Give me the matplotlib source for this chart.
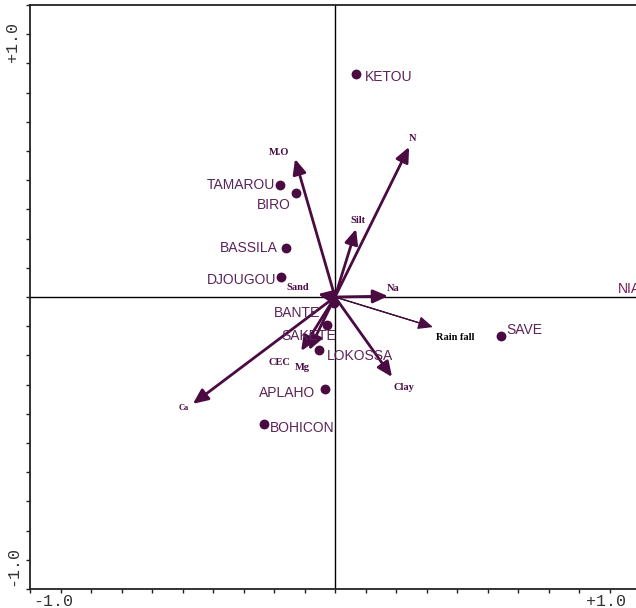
import matplotlib.pyplot as plt
from matplotlib.transforms import blended_transform_factory

# soil / climate variables (arrow tips)
variables = ["M.O", "N", "Silt", "Sand", "Na", "Rain fall", "Clay", "Ca", "CEC", "Mg"]
var_x = [-0.131, 0.243, 0.069, -0.056, 0.174, 0.321, 0.187, -0.466, -0.111, -0.085]
var_y = [0.473, 0.514, 0.233, 0.010, 0.003, -0.103, -0.274, -0.366, -0.185, -0.182]

# sampling sites
sites = ["KETOU", "TAMAROU", "BIRO", "BASSILA", "DJOUGOU", "BANTE",
         "SAKETE", "LOKOSSA", "APLAHO", "BOHICON", "SAVE"]
site_x = [0.069, -0.180, -0.128, -0.161, -0.177, -0.003,
          -0.026, -0.052, -0.033, -0.233, 0.544]
site_y = [0.764, 0.384, 0.356, 0.168, 0.068, -0.021,
          -0.096, -0.182, -0.315, -0.435, -0.134]

purple = "#4a0a42"
site_col = "#5a2456"

# label offsets in pixels: (dx, dy, ha)
var_off = {
    "M.O": (-16, 6), "N": (3, 8), "Silt": (2, 8), "Sand": (-20, 7),
    "Na": (5, 8), "Rain fall": (22, -10), "Clay": (12, -10),
    "Ca": (-9, -4), "CEC": (-22, -11), "Mg": (-7, -17),
}
site_off = {
    "KETOU": (9, -3, "left"), "TAMAROU": (-5, 0, "right"),
    "BIRO": (-5, -12, "right"), "BASSILA": (-8, 0, "right"),
    "DJOUGOU": (-5, -3, "right"), "BANTE": (-14, -10, "right"),
    "SAKETE": (-18, -11, "center"), "LOKOSSA": (8, -6, "left"),
    "APLAHO": (-10, -4, "right"), "BOHICON": (6, -4, "left"),
    "SAVE": (5, 6, "left"),
}

fig = plt.figure(figsize=(6.36, 6.08), dpi=100)
ax = fig.add_axes([30 / 636, 19 / 608, 610 / 636, 584 / 608])
ax.set_xlim(-1, 1)
ax.set_ylim(-1, 1)

for s in ax.spines.values():
    s.set_color("#222222")
    s.set_linewidth(1.3)

ticks = [i / 10 for i in range(-10, 11)]
ax.set_xticks(ticks)
ax.set_yticks(ticks)
ax.tick_params(direction="out", length=3, width=1, color="#222222",
               labelbottom=False, labelleft=False)

# axis lines through the origin
ax.axhline(0, color="black", lw=1, zorder=1)
ax.axvline(0, color="black", lw=1, zorder=1)

# end labels of the axes
mono = dict(family="Liberation Mono", fontsize=12, color="#333333")
tx = blended_transform_factory(ax.transData, ax.transAxes)
ty = blended_transform_factory(ax.transAxes, ax.transData)
ax.text(-0.925, -0.021, "-1.0", transform=tx, ha="center", va="center", clip_on=False, **mono)
ax.text(0.89, -0.021, "+1.0", transform=tx, ha="center", va="center", clip_on=False, **mono)
ax.text(-0.028, 0.875, "+1.0", transform=ty, rotation=90, ha="center", va="center", clip_on=False, **mono)
ax.text(-0.028, -0.92, "-1.0", transform=ty, rotation=90, ha="center", va="center", clip_on=False, **mono)

# variable arrows
for name, x, y in zip(variables, var_x, var_y):
    if name == "Rain fall":
        ax.plot([0, x * 0.95], [0, y * 0.95], color="black", lw=0.9, zorder=2)
        lw = 0.9
    else:
        lw = 2.0
    ax.annotate("", xy=(x, y), xytext=(0, 0),
                arrowprops=dict(arrowstyle="-|>,head_length=0.9,head_width=0.4",
                                color=purple, lw=lw, shrinkA=0, shrinkB=0,
                                mutation_scale=10),
                zorder=3)
    dx, dy = var_off[name]
    ax.annotate(name, xy=(x, y), xytext=(dx, dy), textcoords="offset pixels",
                ha="center", va="center", family="Liberation Serif",
                fontweight="bold", fontsize=6 if name == "Ca" else 7.5,
                color="black" if name == "Rain fall" else purple)

# sites
ax.scatter(site_x, site_y, s=50, color=purple, zorder=4, linewidths=0)
for name, x, y in zip(sites, site_x, site_y):
    dx, dy, ha = site_off[name]
    ax.annotate(name, xy=(x, y), xytext=(dx, dy), textcoords="offset pixels",
                ha=ha, va="center", family="Liberation Sans", fontsize=10,
                color=site_col)

# site lying past the right edge, only its label shows
ax.text(0.928, 0.027, "NIAOULI", ha="left", va="center", family="Liberation Sans",
        fontsize=10, color="#7a1a55", clip_on=False)

fig.savefig("out.png", dpi=100)
